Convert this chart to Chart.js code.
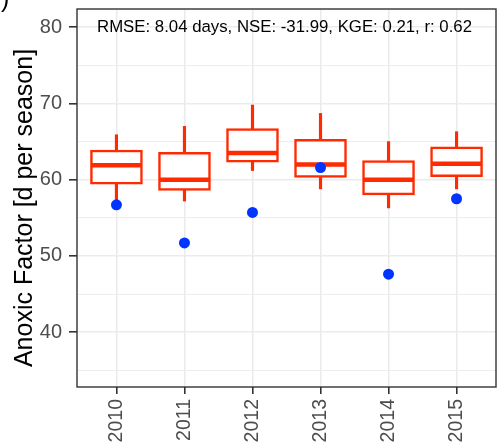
<!DOCTYPE html>
<html>
<head>
<meta charset="utf-8">
<script src="https://cdn.jsdelivr.net/npm/chart.js"></script>
<style>
  html, body { margin: 0; padding: 0; background: #fff; }
  #wrap { width: 498px; height: 444px; }
</style>
</head>
<body>
<div id="wrap"><canvas id="myChart" width="498" height="444"></canvas></div>
<script>
// simulated anoxic factor per year (box stats) and observed value
const years = ['2010', '2011', '2012', '2013', '2014', '2015'];
const whiskerLow  = [57.3, 57.2, 61.2, 58.8, 56.3, 58.8];
const q1          = [59.4, 58.6, 62.3, 60.3, 58.0, 60.4];
const median      = [61.9, 60.0, 63.5, 62.0, 60.0, 62.1];
const q3          = [63.9, 63.6, 66.7, 65.3, 62.5, 64.3];
const whiskerHigh = [65.9, 67.0, 69.8, 68.7, 65.0, 66.3];
const observed    = [56.7, 51.7, 55.7, 61.6, 47.6, 57.5];
const yTicks = [35, 40, 45, 50, 55, 60, 65, 70, 75, 80];
const statsText = 'RMSE: 8.04 days, NSE: -31.99, KGE: 0.21, r: 0.62';
const yTitle = 'Anoxic Factor [d per season]';

const RED = '#ff2a00';
const BLUE = '#0035ff';
const FONT = "'Liberation Sans', Arial, sans-serif";

const extras = {
  id: 'extras',
  afterDraw(chart) {
    const { ctx, chartArea: a } = chart;
    ctx.save();
    // panel border
    ctx.strokeStyle = '#333333';
    ctx.lineWidth = 1.4;
    ctx.strokeRect(a.left, a.top, a.right - a.left, a.bottom - a.top);
    // stats annotation
    ctx.fillStyle = '#000';
    ctx.font = '16.8px ' + FONT;
    ctx.textAlign = 'center';
    ctx.textBaseline = 'alphabetic';
    ctx.fillText(statsText, (a.left + a.right) / 2 - 2, a.top + 23);
    // y axis title
    ctx.font = '25px ' + FONT;
    ctx.translate(32, (a.top + a.bottom) / 2 + 10);
    ctx.rotate(-Math.PI / 2);
    ctx.fillText(yTitle, 0, 0);
    ctx.restore();
    // panel letter, cut off at the top
    ctx.save();
    ctx.fillStyle = '#000';
    ctx.font = '25px ' + FONT;
    ctx.textAlign = 'left';
    ctx.fillText(')', 1, 7);
    ctx.restore();
  }
};

const noPad = s => { s.paddingTop = 0; s.paddingBottom = 0; s.paddingLeft = 0; s.paddingRight = 0; };
const toXY = arr => arr.map((v, i) => ({ x: i, y: v }));

new Chart(document.getElementById('myChart'), {
  type: 'bar',
  data: {
    datasets: [
      {
        label: 'whiskers',
        data: years.map((_, i) => ({ x: i, y: [whiskerLow[i], whiskerHigh[i]] })),
        backgroundColor: RED,
        barThickness: 2.5,
        grouped: false,
        order: 3
      },
      {
        label: 'box',
        data: years.map((_, i) => ({ x: i, y: [q1[i], q3[i]] })),
        backgroundColor: '#ffffff',
        borderColor: RED,
        borderWidth: 2.5,
        borderSkipped: false,
        barThickness: 52,
        grouped: false,
        order: 2
      },
      {
        type: 'scatter',
        label: 'median',
        data: toXY(median),
        pointStyle: 'line',
        pointRadius: 25,
        borderColor: RED,
        borderWidth: 4.5,
        order: 1
      },
      {
        type: 'scatter',
        label: 'observed',
        data: toXY(observed),
        pointRadius: 5.5,
        backgroundColor: BLUE,
        borderColor: BLUE,
        borderWidth: 0,
        order: 0
      }
    ]
  },
  options: {
    responsive: false,
    animation: false,
    layout: { autoPadding: false, padding: { top: 9, right: 2, left: 0, bottom: 0 } },
    plugins: { legend: { display: false }, tooltip: { enabled: false } },
    scales: {
      x: {
        type: 'linear',
        offset: false,
        min: -0.58,
        max: 5.58,
        afterFit: s => { s.height = 57; noPad(s); },
        afterBuildTicks: s => { s.ticks = years.map((_, i) => ({ value: i })); },
        border: { display: false },
        grid: { offset: false, color: '#ebebeb', lineWidth: 1.6, tickColor: '#333333', tickWidth: 1.6, tickLength: 7 },
        ticks: {
          callback: v => years[v],
          minRotation: 90,
          maxRotation: 90,
          padding: 5,
          color: '#4d4d4d',
          font: { family: FONT, size: 19.5 }
        }
      },
      y: {
        min: 32.8,
        max: 82.4,
        afterFit: s => { s.width = 77; noPad(s); },
        afterBuildTicks: s => { s.ticks = yTicks.map(v => ({ value: v })); },
        border: { display: false },
        grid: {
          color: '#ebebeb',
          lineWidth: c => (c.tick && c.tick.value % 10 === 0) ? 1.6 : 0.9,
          tickColor: c => (c.tick && c.tick.value % 10 === 0) ? '#333333' : 'rgba(0,0,0,0)',
          tickWidth: 1.6,
          tickLength: 8
        },
        ticks: {
          callback: v => v % 10 === 0 ? String(v) : '',
          padding: 7,
          color: '#4d4d4d',
          font: { family: FONT, size: 20 }
        }
      }
    }
  },
  plugins: [extras]
});
</script>
</body>
</html>
